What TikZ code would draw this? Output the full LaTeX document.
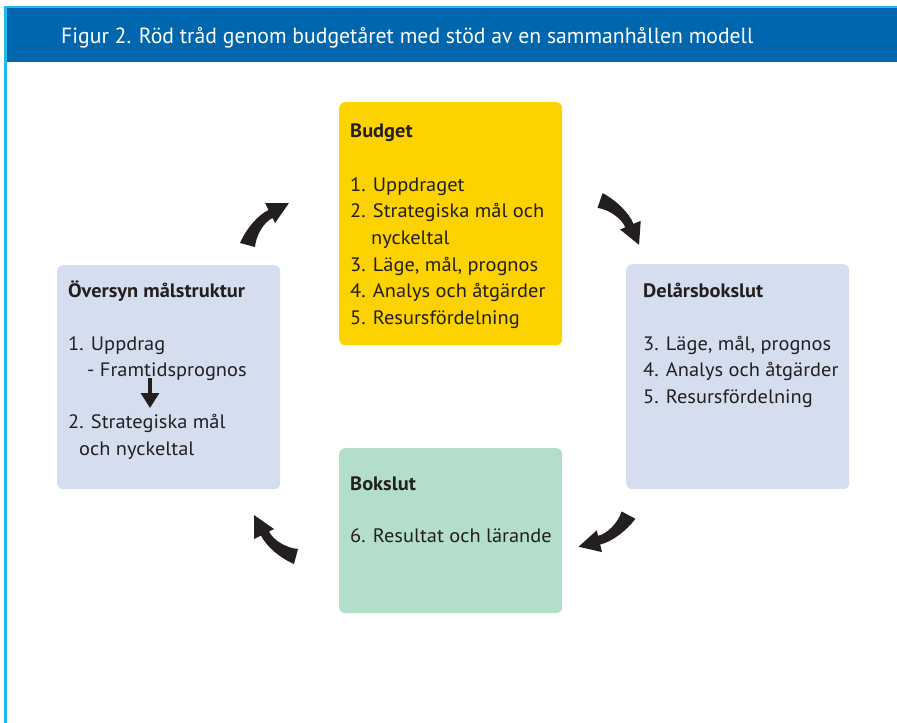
\documentclass[tikz,border=0pt]{standalone}
\usepackage{fontspec}
\setmainfont{PT Sans}[FakeStretch=1.05]
\newfontfamily\headfont[FakeStretch=0.99]{PT Sans}
\usetikzlibrary{arrows.meta}
\definecolor{barblue}{HTML}{0066AE}
\definecolor{framecyan}{HTML}{1EB9EE}
\definecolor{budgetyellow}{HTML}{FCD300}
\definecolor{paleblue}{HTML}{D5DEEF}
\definecolor{mint}{HTML}{B2DECA}
\definecolor{inkblack}{HTML}{231F20}

\begin{document}
\begin{tikzpicture}[x=1bp,y=-1bp,
  stage/.style={rounded corners=6bp, draw=none, inner sep=0pt, anchor=north west},
  % multi-line texts are placed by the baseline of their last line
  boxtext/.style={anchor=base west, inner sep=0pt, align=left,
    font=\fontsize{19.5}{26.8}\selectfont, text=inkblack},
  cyclearrow/.pic={
    \fill[inkblack] (-8,-2) .. controls (-2,-16) and (10,-30) .. (20.5,-35)
      -- (17,-42) -- (41,-42) -- (27,-22) -- (24.5,-27)
      .. controls (16,-23) and (8,-10) .. (7,2) -- cycle;
  }
]
\useasboundingbox (0,0) rectangle (897,723);
\fill[white] (0,0) rectangle (897,723);

% frame and heading bar
\fill[framecyan] (4,6.5) rectangle (897,8.5);
\fill[framecyan] (4,6.5) rectangle (7,723);
\fill[barblue] (7,8.5) rectangle (897,62.5);
\node[anchor=base west, inner sep=0pt, text=white,
  font=\headfont\fontsize{22}{26}\selectfont] (heading) at (61,44)
  {Figur 2. Röd tråd genom budgetåret med stöd av en sammanhållen modell};

% the four stages
\node[stage, fill=budgetyellow, minimum width=223bp, minimum height=243bp] (budget) at (339,102) {};
\node[stage, fill=paleblue, minimum width=223bp, minimum height=225bp] (delar) at (626,264) {};
\node[stage, fill=mint, minimum width=223bp, minimum height=165bp] (bokslut) at (339,448) {};
\node[stage, fill=paleblue, minimum width=223bp, minimum height=224bp] (oversyn) at (57,265) {};

\node[boxtext] (budgettext) at (350,324.6)
  {\bfseries Budget\\[26.8pt]
   1. Uppdraget\\
   2. Strategiska mål och\\
   \phantom{2.} nyckeltal\\
   3. Läge, mål, prognos\\
   4. Analys och åtgärder\\
   5. Resursfördelning};

\node[boxtext] (delartext) at (643,403.4)
  {\bfseries Delårsbokslut\\[26pt]
   3. Läge, mål, prognos\\
   4. Analys och åtgärder\\
   5. Resursfördelning};

\node[boxtext] (bokslutext) at (350,542.8)
  {\bfseries Bokslut\\[26pt]
   6. Resultat och lärande};

\node[boxtext] (oversyntext) at (68,455.2)
  {\bfseries Översyn målstruktur\\[26pt]
   1. Uppdrag\\
   \hspace*{19bp}- Framtidsprognos\\[25pt]
   2. Strategiska mål\\
   \hspace*{11bp}och nyckeltal};

% step inside the review box
\coordinate (stepfrom) at (150,378);
\coordinate (stepto) at (150,408);
\draw[inkblack, line width=3.2bp, -{Triangle[width=18bp, length=15bp]}] (stepfrom) -- (stepto);

% cycle arrows between the stages
\pic at (248,245) {cyclearrow};
\pic[rotate=-94] at (600,201) {cyclearrow};
\pic[rotate=167] at (628,515) {cyclearrow};
\pic[rotate=90] at (296,556) {cyclearrow};
\end{tikzpicture}
\end{document}
